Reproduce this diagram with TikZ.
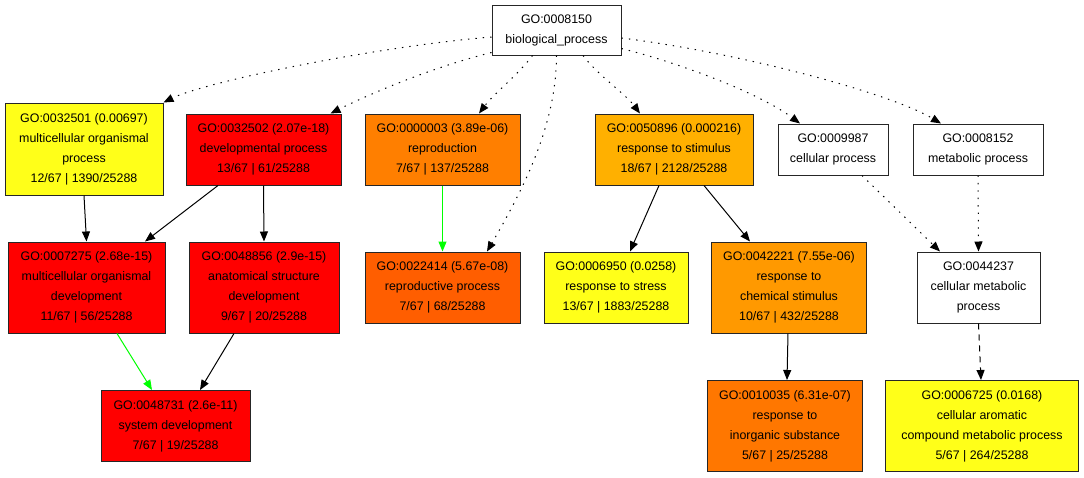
\documentclass[tikz,border=0pt]{standalone}
\usepackage{fontspec}
\setmainfont{Liberation Sans}
\usetikzlibrary{arrows.meta}
\definecolor{cyel}{RGB}{255,255,25}
\definecolor{cred}{RGB}{255,0,0}
\definecolor{corA}{RGB}{255,127,0}
\definecolor{corB}{RGB}{255,94,0}
\definecolor{corC}{RGB}{255,176,0}
\definecolor{corD}{RGB}{255,153,0}
\definecolor{corE}{RGB}{255,119,0}
\definecolor{cgreen}{RGB}{0,255,0}
\tikzset{
  gobox/.style={draw=black!85, line width=1pt, inner sep=0pt, align=center,
    font=\fontsize{12.4}{20}\selectfont},
  edge/.style={line width=1pt, -{Triangle[length=10pt,width=8pt]}},
  dotedge/.style={edge, dash pattern=on 1.4pt off 6pt},
  dashedge/.style={edge, dash pattern=on 6pt off 5pt},
  greenedge/.style={edge, draw=cgreen, -{Triangle[length=10pt,width=8pt,fill=cgreen]}},
}
\begin{document}
\begin{tikzpicture}[x=1pt,y=-1pt]
\useasboundingbox (0,0) rectangle (1084,477);
% nodes
\node[gobox, fill=white, minimum width=129pt, minimum height=50pt] (root) at (556.5,30) {GO:0008150\\biological\_process};
\node[gobox, fill=cyel, minimum width=158pt, minimum height=92pt] (n32501) at (84,149) {GO:0032501 (0.00697)\\multicellular organismal\\process\\12/67 | 1390/25288};
\node[gobox, fill=cred, minimum width=155pt, minimum height=71pt] (n32502) at (263.5,149.5) {GO:0032502 (2.07e-18)\\developmental process\\13/67 | 61/25288};
\node[gobox, fill=corA, minimum width=155pt, minimum height=71pt] (n3) at (442.5,149.5) {GO:0000003 (3.89e-06)\\reproduction\\7/67 | 137/25288};
\node[gobox, fill=corC, minimum width=158pt, minimum height=71pt] (n50896) at (674,149.5) {GO:0050896 (0.000216)\\response to stimulus\\18/67 | 2128/25288};
\node[gobox, fill=white, minimum width=110pt, minimum height=51pt] (n9987) at (833,149.5) {GO:0009987\\cellular process};
\node[gobox, fill=white, minimum width=130pt, minimum height=51pt] (n8152) at (978,149.5) {GO:0008152\\metabolic process};
\node[gobox, fill=cred, minimum width=157pt, minimum height=91pt] (n7275) at (86.5,287.5) {GO:0007275 (2.68e-15)\\multicellular organismal\\development\\11/67 | 56/25288};
\node[gobox, fill=cred, minimum width=150pt, minimum height=91pt] (n48856) at (264,287.5) {GO:0048856 (2.9e-15)\\anatomical structure\\development\\9/67 | 20/25288};
\node[gobox, fill=corB, minimum width=155pt, minimum height=71pt] (n22414) at (442.5,287.5) {GO:0022414 (5.67e-08)\\reproductive process\\7/67 | 68/25288};
\node[gobox, fill=cyel, minimum width=144pt, minimum height=71pt] (n6950) at (616,287.5) {GO:0006950 (0.0258)\\response to stress\\13/67 | 1883/25288};
\node[gobox, fill=corD, minimum width=155pt, minimum height=91pt] (n42221) at (789,287.5) {GO:0042221 (7.55e-06)\\response to\\chemical stimulus\\10/67 | 432/25288};
\node[gobox, fill=white, minimum width=123pt, minimum height=71pt] (n44237) at (978.5,287.5) {GO:0044237\\cellular metabolic\\process};
\node[gobox, fill=cred, minimum width=149pt, minimum height=71pt] (n48731) at (175.5,426) {GO:0048731 (2.6e-11)\\system development\\7/67 | 19/25288};
\node[gobox, fill=corE, minimum width=155pt, minimum height=91pt] (n10035) at (785,426) {GO:0010035 (6.31e-07)\\response to\\inorganic substance\\5/67 | 25/25288};
\node[gobox, fill=cyel, minimum width=193pt, minimum height=91pt] (n6725) at (982,426) {GO:0006725 (0.0168)\\cellular aromatic\\compound metabolic process\\5/67 | 264/25288};
% edges from root
\draw[dotedge] ([yshift=-7pt]root.west) .. controls +(-120,10) and +(40,-20) .. (n32501.north east);
\draw[dotedge] ([yshift=3pt]root.south west) .. controls +(-60,15) and +(40,-20) .. ([xshift=-11pt]n32502.north east);
\draw[dotedge] ([xshift=-24pt]root.south) .. controls +(-15,20) and +(15,-20) .. ([xshift=36.5pt]n3.north);
\draw[dotedge] (root.south) .. controls +(0,70) and +(35,-60) .. ([xshift=44.5pt]n22414.north);
\draw[dotedge] ([xshift=26.5pt]root.south) .. controls +(15,20) and +(-15,-20) .. ([xshift=-34pt]n50896.north);
\draw[dotedge] ([yshift=7pt]root.south east) .. controls +(60,15) and +(-40,-30) .. ([xshift=-33pt]n9987.north);
\draw[dotedge] ([yshift=-8pt]root.east) .. controls +(120,15) and +(-50,-30) .. ([xshift=-37pt]n8152.north);
% other edges
\draw[edge] (n32501.south) -- (n7275.north);
\draw[edge] ([xshift=-45.5pt]n32502.south) -- ([xshift=58.5pt]n7275.north);
\draw[edge] (n32502.south) -- (n48856.north);
\draw[greenedge] (n3.south) -- (n22414.north);
\draw[edge] ([xshift=-15pt]n50896.south) -- ([xshift=14pt]n6950.north);
\draw[edge] ([xshift=30pt]n50896.south) -- ([xshift=-39pt]n42221.north);
\draw[dotedge] ([xshift=29pt]n9987.south) -- ([xshift=-38.5pt]n44237.north);
\draw[dotedge] (n8152.south) -- (n44237.north);
\draw[edge] ([xshift=-1pt]n42221.south) -- ([xshift=2pt]n10035.north);
\draw[dashedge] (n44237.south) -- ([xshift=-1pt]n6725.north);
\draw[greenedge] ([xshift=30.5pt]n7275.south) -- ([xshift=-23.5pt]n48731.north);
\draw[edge] ([xshift=-30pt]n48856.south) -- ([xshift=24.5pt]n48731.north);
\end{tikzpicture}
\end{document}
